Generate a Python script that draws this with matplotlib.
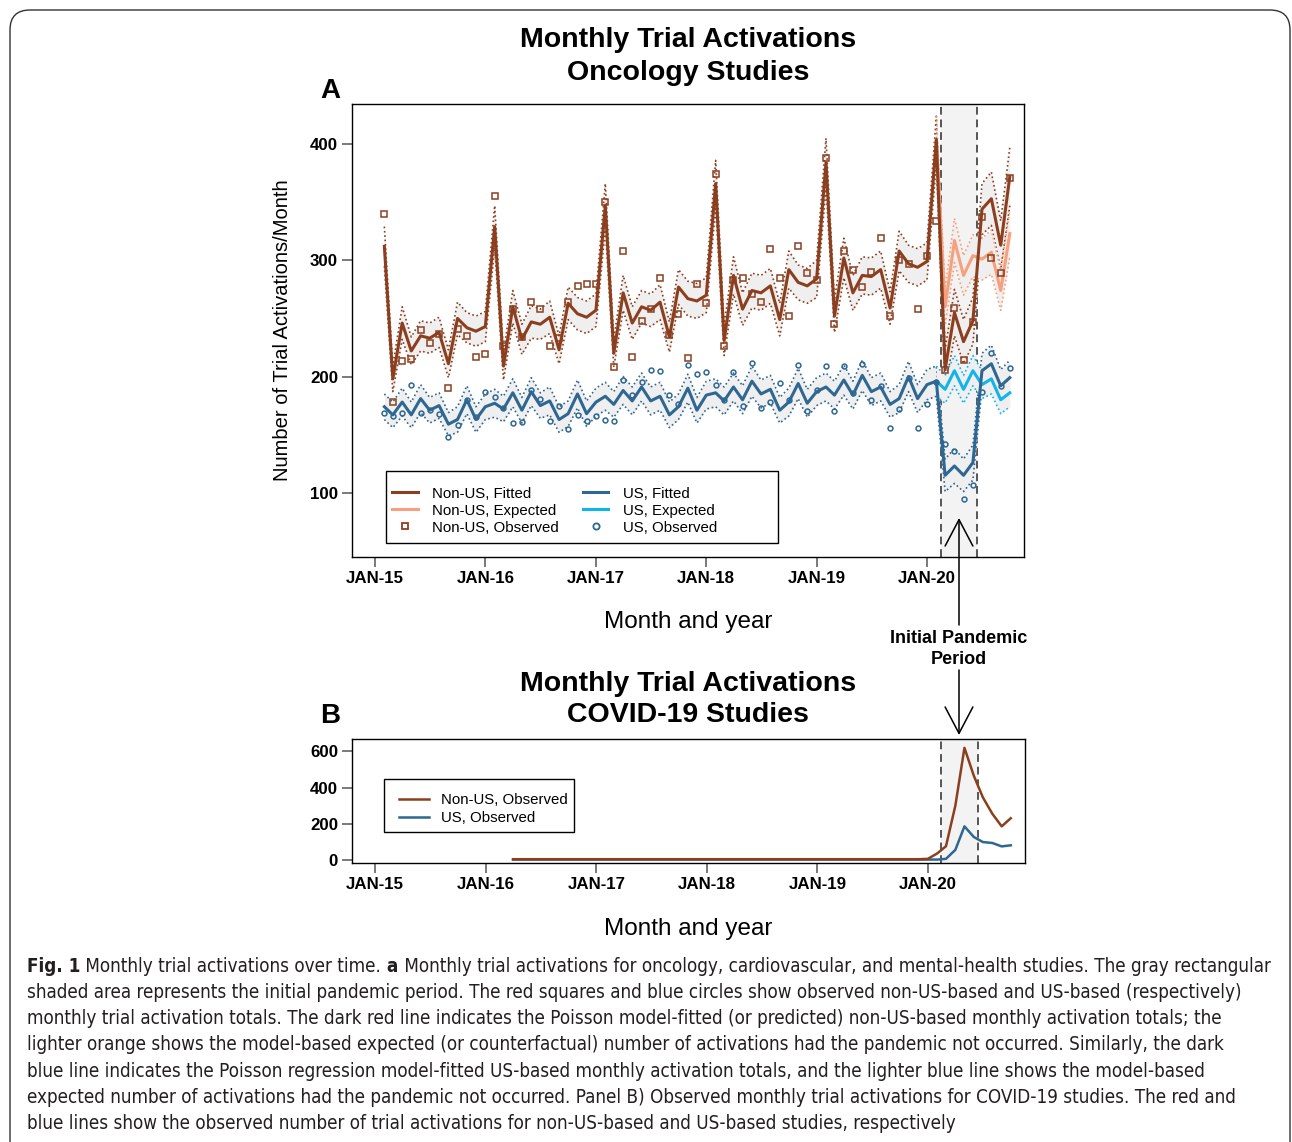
import matplotlib
matplotlib.use("Agg")
import matplotlib.pyplot as plt
from matplotlib import font_manager
from matplotlib.lines import Line2D
from matplotlib.patches import FancyBboxPatch, FancyArrowPatch, Rectangle
from matplotlib.transforms import IdentityTransform
import numpy as np
import pandas as pd

plt.rcParams['font.family'] = ['Liberation Sans', 'DejaVu Sans']

# ---------------- data ----------------
months = pd.date_range("2015-02-01", periods=69, freq="MS")

# Non-US oncology activations
nonus_fit = [312, 198, 246, 222, 235, 233, 238, 211, 250, 242, 239, 243,
             329, 209, 260, 232, 247, 245, 251, 223, 263, 254, 251, 257,
             347, 220, 272, 246, 260, 257, 264, 234, 277, 267, 265, 270,
             366, 231, 287, 258, 274, 272, 278, 249, 292, 281, 278, 284,
             384, 252, 302, 272, 287, 286, 292, 259, 308, 297, 294, 299,
             404, 206, 255, 230, 248, 344, 353, 313, 372]
nonus_obs = [340, 178, 213, 215, 240, 229, 237, 190, 241, 235, 217, 219,
             355, 226, 258, 234, 264, 258, 226, 233, 264, 278, 280, 280,
             350, 208, 308, 217, 248, 258, 285, 236, 254, 216, 280, 263,
             374, 226, 283, 285, 271, 264, 310, 285, 252, 312, 289, 283,
             388, 245, 308, 292, 277, 290, 319, 252, 300, 297, 258, 304,
             334, 206, 259, 214, 247, 337, 302, 289, 371]
nonus_ci = [17, 11, 14, 12, 13, 13, 13, 12, 14, 13, 13, 13,
            18, 12, 14, 13, 14, 13, 14, 12, 14, 14, 14, 14,
            19, 12, 15, 14, 14, 14, 15, 13, 15, 15, 15, 15,
            20, 13, 16, 14, 15, 15, 15, 14, 16, 15, 15, 16,
            21, 14, 17, 15, 16, 16, 16, 14, 17, 16, 16, 16,
            20, 17, 20, 19, 20, 22, 23, 21, 25]

# US oncology activations
us_fit = [174, 167, 178, 167, 181, 171, 175, 159, 163, 180, 163, 174,
          177, 172, 186, 171, 187, 175, 179, 163, 168, 185, 168, 178,
          183, 176, 188, 179, 191, 179, 183, 167, 174, 190, 171, 184,
          186, 179, 191, 180, 196, 185, 189, 171, 178, 194, 177, 187,
          191, 184, 197, 184, 201, 187, 191, 176, 181, 200, 181, 193,
          196, 115, 123, 115, 126, 205, 211, 192, 199]
us_obs = [169, 166, 169, 193, 169, 171, 168, 148, 158, 180, 165, 187,
          182, 173, 160, 161, 188, 181, 162, 175, 155, 167, 162, 166,
          163, 162, 197, 184, 195, 206, 205, 184, 176, 210, 202, 204,
          193, 180, 204, 175, 212, 173, 178, 194, 180, 210, 170, 188,
          209, 170, 209, 186, 211, 180, 192, 156, 172, 199, 156, 176,
          195, 142, 136, 95, 107, 187, 220, 192, 207]
us_ci = [11, 11, 12, 11, 12, 11, 11, 10, 11, 12, 11, 11,
         12, 11, 12, 11, 12, 11, 12, 11, 11, 12, 11, 12,
         12, 11, 12, 12, 12, 12, 12, 11, 11, 12, 11, 12,
         12, 12, 12, 12, 13, 12, 12, 11, 12, 13, 12, 12,
         12, 12, 13, 12, 13, 12, 12, 11, 12, 13, 12, 13,
         13, 14, 15, 14, 15, 15, 16, 14, 15]

# counterfactual (no pandemic), Feb 2020 onwards
exp_months = pd.date_range("2020-02-01", periods=9, freq="MS")
nonus_exp = [404, 260, 317, 287, 304, 301, 307, 274, 323]
nonus_exp_ci = [20, 16, 19, 17, 18, 18, 19, 17, 20]
us_exp = [196, 189, 205, 189, 205, 193, 198, 180, 186]
us_exp_ci = [13, 12, 13, 12, 13, 12, 13, 12, 12]

# COVID-19 studies, Apr 2016 - Oct 2020
covid_months = pd.date_range("2016-04-01", periods=55, freq="MS")
covid_nonus = [3, 3, 3, 3, 3, 3, 3, 3, 3,
               3, 3, 3, 3, 3, 3, 3, 3, 3, 3, 3, 3,
               3, 3, 3, 3, 3, 3, 3, 3, 3, 3, 3, 3,
               3, 3, 3, 3, 3, 3, 3, 3, 3, 3, 3, 3,
               5, 35, 75, 300, 620, 465, 345, 255, 185, 230]
covid_us = [1, 1, 1, 1, 1, 1, 1, 1, 1,
            1, 1, 1, 1, 1, 1, 1, 1, 1, 1, 1, 1,
            1, 1, 1, 1, 1, 1, 1, 1, 1, 1, 1, 1,
            1, 1, 1, 1, 1, 1, 1, 1, 1, 1, 1, 1,
            1, 1, 5, 55, 185, 126, 98, 93, 74, 80]

pandemic = (pd.Timestamp("2020-02-15"), pd.Timestamp("2020-06-16"))
year_ticks = pd.to_datetime(["2015-01-01", "2016-01-01", "2017-01-01",
                             "2018-01-01", "2019-01-01", "2020-01-01"])
year_labels = ["JAN-15", "JAN-16", "JAN-17", "JAN-18", "JAN-19", "JAN-20"]

# ---------------- styling ----------------
BROWN = "#8c3f1f"
SALMON = "#f7a07e"
BLUE = "#2e6791"
SKY = "#12b4ec"
BAND = "#efefef"
W, H = 1292, 1142

fig = plt.figure(figsize=(W / 100, H / 100), dpi=100)
axA = fig.add_axes([352 / W, 1 - 557 / H, 672 / W, 453 / H])
axB = fig.add_axes([352 / W, 1 - 863 / H, 673 / W, 124 / H])
xlim = (pd.Timestamp("2014-10-17"), pd.Timestamp("2020-11-17"))


def base_axes(ax, yticks):
    ax.set_xlim(*xlim)
    ax.axvspan(*pandemic, color="#f3f3f3", lw=0, zorder=0)
    for d in pandemic:
        ax.axvline(d, color="#555555", lw=1.4, ls=(0, (4, 2.5)), zorder=1.5)
    ax.set_xticks(year_ticks, year_labels, fontweight="bold", fontsize=12.2)
    ax.set_yticks(yticks, [str(v) for v in yticks], fontweight="bold", fontsize=12.2)
    ax.tick_params(direction="out", length=7, width=1.1, color="#555555", pad=3)
    for s in ax.spines.values():
        s.set_linewidth(1.0)
    ax.set_xlabel("Month and year", fontsize=17.5)
    ax.xaxis.set_label_coords(0.5, -0.119 if ax is axA else -0.44)


def band(ax, x, mid, half, color, zo=2):
    mid = np.asarray(mid, float)
    half = np.asarray(half, float)
    ax.fill_between(x, mid - half, mid + half, color=BAND, lw=0, zorder=zo)
    ax.plot(x, mid + half, color=color, lw=1.2, ls=(0, (1, 1.6)), zorder=zo + 0.5)
    ax.plot(x, mid - half, color=color, lw=1.2, ls=(0, (1, 1.6)), zorder=zo + 0.5)


# ---------------- panel A ----------------
base_axes(axA, [100, 200, 300, 400])
axA.set_ylim(44.7, 434.5)
band(axA, months, nonus_fit, nonus_ci, BROWN)
band(axA, months, us_fit, us_ci, BLUE)
band(axA, exp_months, nonus_exp, nonus_exp_ci, SALMON, zo=2.6)
band(axA, exp_months, us_exp, us_exp_ci, SKY, zo=2.6)
axA.plot(exp_months, nonus_exp, color=SALMON, lw=2.2, zorder=4)
axA.plot(exp_months, us_exp, color=SKY, lw=2.2, zorder=4)
axA.plot(months, nonus_fit, color=BROWN, lw=2.2, zorder=4.5)
axA.plot(months, us_fit, color=BLUE, lw=2.2, zorder=4.5)
axA.plot(months, nonus_obs, ls="none", marker="s", ms=4.0, mfc="none",
         mec=BROWN, mew=1.1, zorder=5)
axA.plot(months, us_obs, ls="none", marker="o", ms=3.5, mfc="none",
         mec=BLUE, mew=1.1, zorder=5)
axA.set_ylabel("Number of Trial Activations/Month", fontsize=14.5)
axA.yaxis.set_label_coords(-0.089, 0.5)

handlesA = [Line2D([], [], color=BROWN, lw=2.2),
            Line2D([], [], color=SALMON, lw=2.2),
            Line2D([], [], ls="none", marker="s", ms=5, mfc="none", mec=BROWN, mew=1.3),
            Line2D([], [], color=BLUE, lw=2.2),
            Line2D([], [], color=SKY, lw=2.2),
            Line2D([], [], ls="none", marker="o", ms=4.5, mfc="none", mec=BLUE, mew=1.3)]
labelsA = ["Non-US, Fitted", "Non-US, Expected", "Non-US, Observed",
           "US, Fitted", "US, Expected", "US, Observed"]
axA.add_patch(Rectangle((0.0506, 0.0309), 0.5833, 0.159, transform=axA.transAxes,
                        fc="white", ec="black", lw=1.0, zorder=6))
legA = axA.legend(handlesA, labelsA, ncol=2, loc="upper left",
                  bbox_to_anchor=(0.049, 0.172), frameon=False, borderpad=0,
                  fontsize=10.8, handlelength=1.7, handletextpad=0.95,
                  columnspacing=1.6, labelspacing=0.2)
legA.set_zorder(7)

# ---------------- panel B ----------------
base_axes(axB, [0, 200, 400, 600])
axB.set_ylim(-18, 669)
axB.plot(covid_months, covid_us, color=BLUE, lw=1.8, zorder=4)
axB.plot(covid_months, covid_nonus, color=BROWN, lw=1.8, zorder=4.5)
axB.add_patch(Rectangle((0.0475, 0.25), 0.2823, 0.427, transform=axB.transAxes,
                        fc="white", ec="black", lw=1.0, zorder=6))
legB = axB.legend([Line2D([], [], color=BROWN, lw=1.8), Line2D([], [], color=BLUE, lw=1.8)],
                  ["Non-US, Observed", "US, Observed"], loc="upper left",
                  bbox_to_anchor=(0.058, 0.625), frameon=False, borderpad=0,
                  fontsize=10.8, handlelength=2.0, handletextpad=0.8, labelspacing=0.3)
legB.set_zorder(7)

# ---------------- titles and labels ----------------
cx = 688 / W
for txt, y in [("Monthly Trial Activations", 40), ("Oncology Studies", 73),
               ("Monthly Trial Activations", 684), ("COVID-19 Studies", 715)]:
    fig.text(cx, 1 - y / H, txt, ha="center", va="center", fontsize=20.5, fontweight="bold")
fig.text(330 / W, 1 - 91 / H, "A", ha="center", va="center", fontsize=20, fontweight="bold")
fig.text(330 / W, 1 - 716 / H, "B", ha="center", va="center", fontsize=20, fontweight="bold")

fig.text(959 / W, 1 - 649 / H, "Initial Pandemic\nPeriod", ha="center", va="center",
         fontsize=13, fontweight="bold", linespacing=1.25)
for tail, head in [(625, 518), (670, 735)]:
    fig.add_artist(FancyArrowPatch((959, H - tail), (959, H - head),
                                   arrowstyle="->,head_length=0.95,head_width=0.5",
                                   mutation_scale=20, lw=1.1, color="black",
                                   shrinkA=0, shrinkB=0, transform=IdentityTransform()))

# outer rounded frame
fig.add_artist(FancyBboxPatch((10, -30), 1280, 1162, boxstyle="round,pad=0,rounding_size=20",
                              fc="none", ec="#333333", lw=1.0, transform=IdentityTransform()))

# ---------------- caption ----------------
names = {f.name for f in font_manager.fontManager.ttflist}
cap_font = "Liberation Sans Narrow" if "Liberation Sans Narrow" in names else "DejaVu Sans"
cap_stretch = "normal" if cap_font == "Liberation Sans Narrow" else "condensed"
caption = [
    [("Fig. 1", True), (" Monthly trial activations over time.", False), (" a", True),
     (" Monthly trial activations for oncology, cardiovascular, and mental-health studies. The gray rectangular", False)],
    [("shaded area represents the initial pandemic period. The red squares and blue circles show observed non-US-based and US-based (respectively)", False)],
    [("monthly trial activation totals. The dark red line indicates the Poisson model-fitted (or predicted) non-US-based monthly activation totals; the", False)],
    [("lighter orange shows the model-based expected (or counterfactual) number of activations had the pandemic not occurred. Similarly, the dark", False)],
    [("blue line indicates the Poisson regression model-fitted US-based monthly activation totals, and the lighter blue line shows the model-based", False)],
    [("expected number of activations had the pandemic not occurred. Panel B) Observed monthly trial activations for COVID-19 studies. The red and", False)],
    [("blue lines show the observed number of trial activations for non-US-based and US-based studies, respectively", False)],
]
renderer = fig.canvas.get_renderer()
probe = fig.text(0, 0, "".join(s for s, _ in caption[0]), fontsize=10, family=cap_font,
                 fontstretch=cap_stretch, transform=IdentityTransform())
cap_size = 10 * 1237 / probe.get_window_extent(renderer).width
probe.remove()

for k, line in enumerate(caption):
    x = 27
    y = H - (966 + 26.3 * k)
    for seg, bold in line:
        t = fig.text(x, y, seg, fontsize=cap_size, family=cap_font, fontstretch=cap_stretch,
                     fontweight="bold" if bold else "normal", color="#231f20",
                     ha="left", va="center", transform=IdentityTransform())
        x = t.get_window_extent(renderer).x1

fig.savefig("out.png", dpi=100)
